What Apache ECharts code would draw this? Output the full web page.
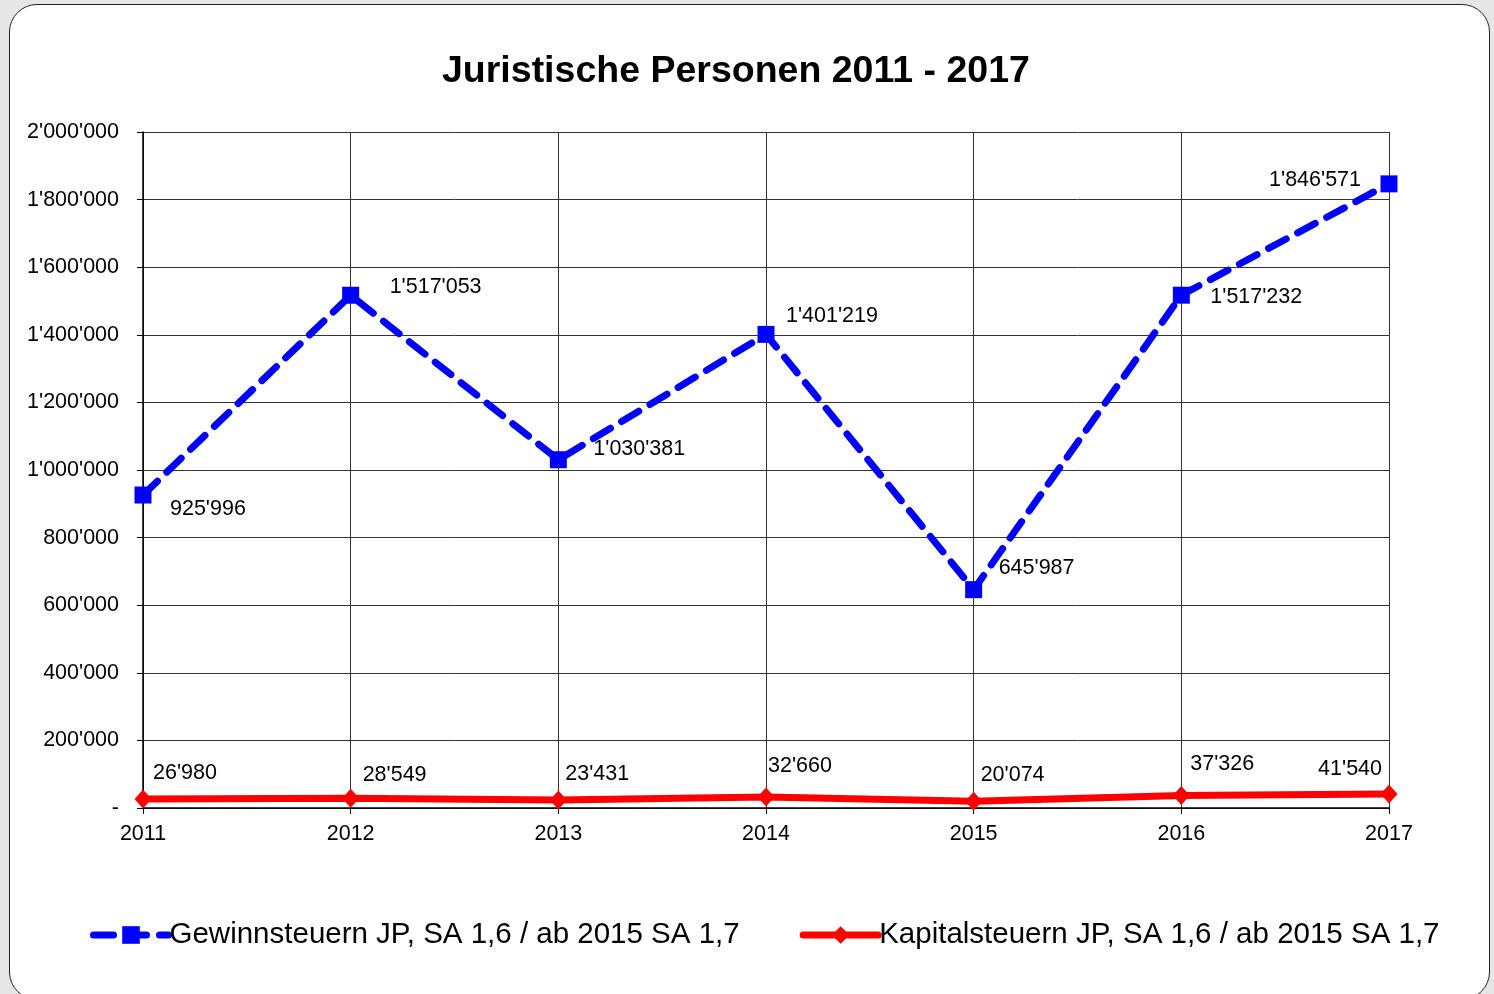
<!DOCTYPE html>
<html>
<head>
<meta charset="utf-8">
<script src="https://cdn.jsdelivr.net/npm/echarts@6/dist/echarts.min.js"></script>
<style>
  html, body { margin: 0; padding: 0; background: #e6e6e6; }
  #frame {
    position: absolute; left: 9px; top: 4px; width: 1481px; height: 996px;
    background: #fff; border: 1.5px solid #222; border-radius: 28px; box-sizing: border-box;
  }
  #chart { position: absolute; left: 0; top: 0; width: 1494px; height: 994px; }
</style>
</head>
<body>
<div id="frame"></div>
<div id="chart"></div>
<script>
// Daten
const jahre = ['2011', '2012', '2013', '2014', '2015', '2016', '2017'];
const gewinnsteuern = [925996, 1517053, 1030381, 1401219, 645987, 1517232, 1846571];
const kapitalsteuern = [26980, 28549, 23431, 32660, 20074, 37326, 41540];

// label offsets (px) je Punkt, [dx, dy, align]
const gewinnOffset = [[27, 14, 'left'], [39, -8, 'left'], [35, -11, 'left'], [20, -18, 'left'],
  [25, -22, 'left'], [29, 2, 'left'], [-28, -4, 'right']];
const kapitalOffset = [[10, -26, 'left'], [12, -23, 'left'], [7, -26, 'left'], [2, -31, 'left'],
  [7, -26, 'left'], [9, -31, 'left'], [-7, -25, 'right']];

function fmt(v) {
  if (v === 0) return '-';
  return String(v).replace(/\B(?=(\d{3})+(?!\d))/g, "'");
}

const FONT = '"Liberation Sans", Arial, sans-serif';

function withLabels(values, offs) {
  return values.map((v, i) => ({
    value: v,
    label: { offset: [offs[i][0], offs[i][1]], align: offs[i][2] }
  }));
}

const chart = echarts.init(document.getElementById('chart'));
chart.setOption({
  animation: false,
  textStyle: { fontFamily: FONT },
  title: {
    text: 'Juristische Personen 2011 - 2017',
    top: 48, left: 437,
    textStyle: { fontSize: 37.5, fontWeight: 'bold', color: '#000', fontFamily: FONT }
  },
  grid: { left: 143, right: 105, top: 132, bottom: 186, containLabel: false },
  legend: {
    bottom: 39, left: 85,
    itemWidth: 75, itemHeight: 22, itemGap: 60,
    lineStyle: { width: 7 },
    textStyle: { fontSize: 29.5, color: '#000', fontFamily: FONT, padding: [0, 0, 0, -4] }
  },
  xAxis: {
    type: 'category',
    data: jahre,
    boundaryGap: false,
    axisLine: { lineStyle: { color: '#000', width: 1.5 } },
    axisTick: { show: true, length: 6, lineStyle: { color: '#000' }, alignWithLabel: true },
    axisLabel: { fontSize: 21.5, color: '#000', margin: 15 },
    splitLine: { show: true, lineStyle: { color: '#333', width: 1 } }
  },
  yAxis: {
    type: 'value',
    min: 0, max: 2000000, interval: 200000,
    axisLine: { show: true, lineStyle: { color: '#000', width: 1.5 } },
    axisTick: { show: true, length: 6, lineStyle: { color: '#000' } },
    axisLabel: { fontSize: 21.5, color: '#000', margin: 24, formatter: fmt },
    splitLine: { show: true, lineStyle: { color: '#333', width: 1 } }
  },
  series: [
    {
      name: 'Gewinnsteuern JP, SA 1,6 / ab 2015 SA 1,7',
      type: 'line',
      data: withLabels(gewinnsteuern, gewinnOffset),
      symbol: 'rect', symbolSize: 17,
      color: '#0000ff',
      itemStyle: { color: '#0000ff' },
      lineStyle: { color: '#0000ff', width: 7, type: [20, 13], cap: 'round' },
      label: {
        show: true, position: 'inside', verticalAlign: 'middle',
        fontSize: 21.5, color: '#000', formatter: p => fmt(p.value)
      },
      z: 3
    },
    {
      name: 'Kapitalsteuern JP, SA 1,6 / ab 2015 SA 1,7',
      type: 'line',
      data: withLabels(kapitalsteuern, kapitalOffset),
      symbol: 'diamond', symbolSize: [17, 19],
      color: '#ff0000',
      itemStyle: { color: '#ff0000' },
      lineStyle: { color: '#ff0000', width: 7, cap: 'round' },
      label: {
        show: true, position: 'inside', verticalAlign: 'middle',
        fontSize: 21.5, color: '#000', formatter: p => fmt(p.value)
      },
      z: 2
    }
  ]
});
</script>
</body>
</html>
